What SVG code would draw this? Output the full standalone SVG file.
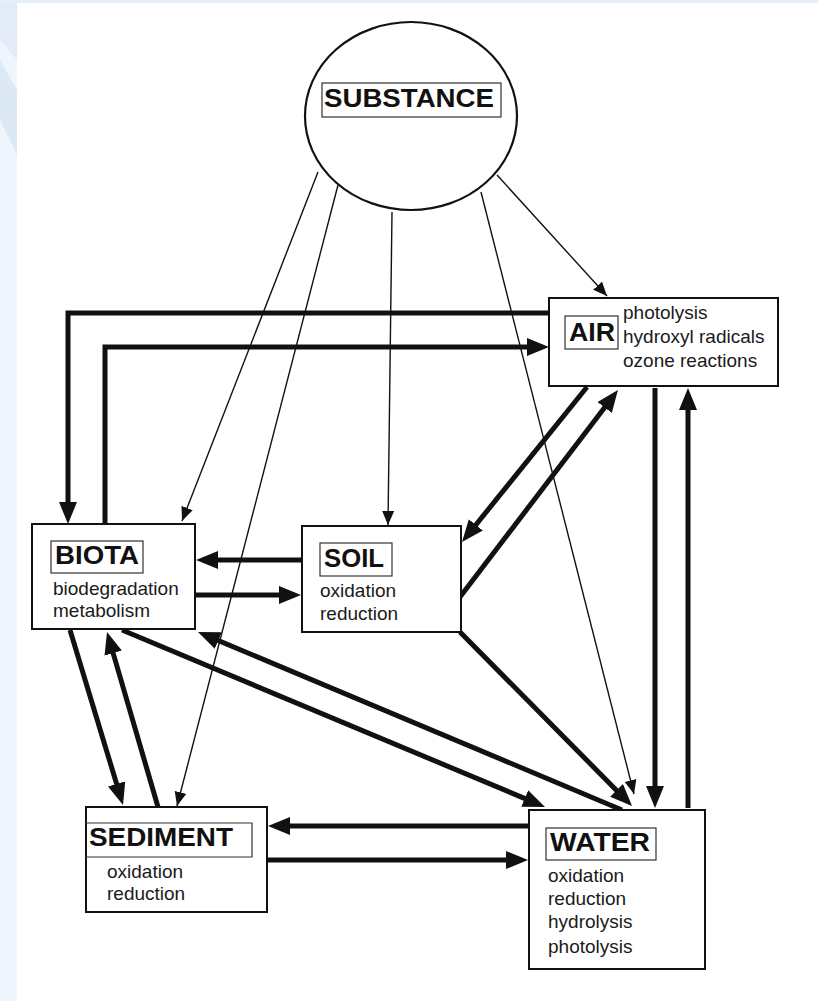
<svg xmlns="http://www.w3.org/2000/svg" width="818" height="1001" viewBox="0 0 818 1001">
<style>
.box{fill:#fff;stroke:#111;stroke-width:2}
.lbl{fill:none;stroke:#333;stroke-width:1.2}
.tl{font-family:"Liberation Sans",Arial,sans-serif;font-weight:bold;font-size:25px;fill:#111}
.tx{font-family:"Liberation Sans",Arial,sans-serif;font-size:19px;fill:#1a1a1a}
.thick{fill:none;stroke:#111;stroke-width:5;marker-end:url(#ah)}
.thin{fill:none;stroke:#111;stroke-width:1.4;marker-end:url(#at)}
</style>
<defs>
<marker id="ah" markerUnits="userSpaceOnUse" markerWidth="24" markerHeight="20" refX="12" refY="9" orient="auto"><path d="M0,0 L22,9 L0,18 z" fill="#111"/></marker>
<marker id="at" markerUnits="userSpaceOnUse" markerWidth="16" markerHeight="14" refX="14" refY="6" orient="auto"><path d="M0,0 L14,6 L0,12 z" fill="#111"/></marker>
</defs>
<rect x="0" y="0" width="818" height="1001" fill="#eff5fd"/>
<path d="M0,0 L17,0 L17,60 L0,40 z" fill="#e2ebf7"/>
<path d="M0,60 L17,90 L17,155 L0,120 z" fill="#dde8f5"/>
<rect x="0" y="0" width="818" height="3" fill="#e6eef8"/>
<rect x="17" y="3" width="801" height="998" fill="#fff"/>

<g id="connectors">
<path class="thin" d="M318,172 L182,521"/>
<path class="thin" d="M338,185 L177,806"/>
<path class="thin" d="M392,212 L388,525"/>
<path class="thin" d="M481,192 L634,794"/>
<path class="thin" d="M497,175 L607,296"/>
<path class="thick" d="M549,313 H68 V514"/>
<path class="thick" d="M105,524 V347 H539"/>
<path class="thick" d="M587,387 L468.3,534.2"/>
<path class="thick" d="M460,597 L611.9,397.9"/>
<path class="thick" d="M655,388 V798"/>
<path class="thick" d="M688,808 V398"/>
<path class="thick" d="M302,560 H206"/>
<path class="thick" d="M196,595 H291"/>
<path class="thick" d="M460,632 L625,798.9"/>
<path class="thick" d="M122,630 L535.8,803.1"/>
<path class="thick" d="M622,810 L207.2,635.9"/>
<path class="thick" d="M70,630 L120.1,795.4"/>
<path class="thick" d="M158,807 L109.8,641.6"/>
<path class="thick" d="M529,826 H278"/>
<path class="thick" d="M268,860 H518"/>
</g>

<g id="substance">
<ellipse cx="411" cy="116" rx="106" ry="94" fill="#fff" stroke="#111" stroke-width="2.2"/>
<rect class="lbl" x="322" y="83" width="179" height="34"/>
<text class="tl" x="324" y="107" textLength="170" lengthAdjust="spacingAndGlyphs" font-size="26">SUBSTANCE</text>
</g>

<g id="air">
<rect class="box" x="549" y="298" width="229" height="88"/>
<rect class="lbl" x="565" y="316" width="53" height="33"/>
<text class="tl" x="569" y="341" textLength="46" lengthAdjust="spacingAndGlyphs">AIR</text>
<text class="tx" x="623" y="319">photolysis</text>
<text class="tx" x="623" y="343">hydroxyl radicals</text>
<text class="tx" x="623" y="367">ozone reactions</text>
</g>

<g id="biota">
<rect class="box" x="32" y="524" width="163" height="105"/>
<rect class="lbl" x="51" y="541" width="92" height="32"/>
<text class="tl" x="55" y="564" textLength="84" lengthAdjust="spacingAndGlyphs">BIOTA</text>
<text class="tx" x="53" y="595">biodegradation</text>
<text class="tx" x="53" y="617">metabolism</text>
</g>

<g id="soil">
<rect class="box" x="302" y="526" width="159" height="106"/>
<rect class="lbl" x="320" y="543" width="72" height="33"/>
<text class="tl" x="324" y="567" textLength="60" lengthAdjust="spacingAndGlyphs">SOIL</text>
<text class="tx" x="320" y="597">oxidation</text>
<text class="tx" x="320" y="620">reduction</text>
</g>

<g id="sediment">
<rect class="box" x="86" y="807" width="181" height="105"/>
<path class="lbl" d="M86,823 H252 V857 H86"/>
<text class="tl" x="89" y="846" textLength="144" lengthAdjust="spacingAndGlyphs">SEDIMENT</text>
<text class="tx" x="107" y="878">oxidation</text>
<text class="tx" x="107" y="900">reduction</text>
</g>

<g id="water">
<rect class="box" x="529" y="810" width="176" height="159"/>
<rect class="lbl" x="546" y="828" width="110" height="32"/>
<text class="tl" x="550" y="851" textLength="100" lengthAdjust="spacingAndGlyphs">WATER</text>
<text class="tx" x="548" y="882">oxidation</text>
<text class="tx" x="548" y="905">reduction</text>
<text class="tx" x="548" y="928">hydrolysis</text>
<text class="tx" x="548" y="953">photolysis</text>
</g>
</svg>
